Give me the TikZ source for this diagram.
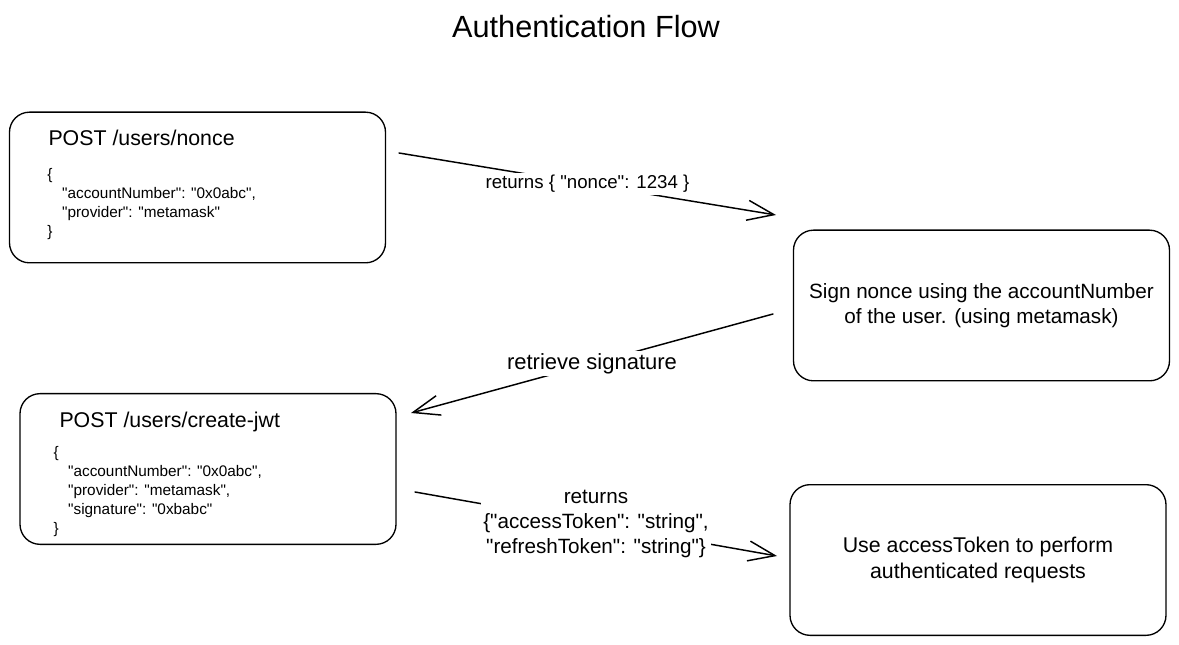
\documentclass[tikz,border=0pt]{standalone}
\usepackage{fontspec}
\setmainfont{Liberation Sans}[Ligatures=TeXOff]
\usetikzlibrary{arrows.meta}

\tikzset{every picture/.style={line width=0.75pt}}
\tikzset{
  card/.style={draw, rounded corners=15pt, line width=1pt, minimum width=282pt, minimum height=113pt, inner sep=0pt, align=center},
  route/.style={anchor=west, inner sep=0pt, font=\fontsize{16}{19}\selectfont},
  body/.style={anchor=north west, inner sep=0pt, align=left, font=\fontsize{11.5}{14.3}\selectfont},
  flow/.style={line width=1.1pt, line cap=round, -{Straight Barb[length=20pt,width=15pt]}},
  tag/.style={fill=white, inner sep=1.5pt, align=center}
}

\begin{document}
\begin{tikzpicture}[x=0.75pt,y=0.75pt,yscale=-1,xscale=1]
	\useasboundingbox (0,0) rectangle (1179,645);

	% Title
	\node (title) at (586,27) {\fontsize{23}{27}\selectfont Authentication Flow};

	%Shape: Rounded Rect (nonce request)
	\node [card] (nonce) at (197.5,187.5) {};
	% Text Node
	\node [route] (nonceRoute) at (48,137.5) {POST /users/nonce};
	% Text Node
	\node [body] (nonceBody) at (47,168) {\{\\
		\hspace*{11pt}"accountNumber": "0x0abc",\\
		\hspace*{11pt}"provider": "metamask"\\
		\}};

	%Shape: Rounded Rect (signing)
	\node [card, font=\fontsize{15.5}{19}\selectfont] (sign) at (981.5,305.5) {Sign nonce using the accountNumber\\of the user. (using metamask)};

	%Shape: Rounded Rect (jwt request)
	\node [card] (jwt) at (208,469) {};
	% Text Node
	\node [route] (jwtRoute) at (59,422) {POST /users/create-jwt};
	% Text Node
	\node [body] (jwtBody) at (53,446) {\{\\
		\hspace*{11pt}"accountNumber": "0x0abc",\\
		\hspace*{11pt}"provider": "metamask",\\
		\hspace*{11pt}"signature": "0xbabc"\\
		\}};

	%Shape: Rounded Rect (use token)
	\node [card, font=\fontsize{16}{19}\selectfont] (use) at (978,560) {Use accessToken to perform\\authenticated requests};

	% free ends of the arrows
	\coordinate (nonceOut) at (399,153);
	\coordinate (signIn) at (776,215);
	\coordinate (signOut) at (773,314);
	\coordinate (jwtIn) at (411,413);
	\coordinate (jwtOut) at (415,492);
	\coordinate (useIn) at (777,556);

	%Arrows
	\draw [flow] (nonceOut) -- node [tag, font=\fontsize{14}{17}\selectfont] (nonceTag) {returns \{ "nonce": 1234 \}} (signIn);
	\draw [flow] (signOut) -- node [tag, font=\fontsize{16.5}{19}\selectfont] (signTag) {retrieve signature} (jwtIn);
	\draw [flow] (jwtOut) -- node [tag, font=\fontsize{15.5}{18.75}\selectfont] (jwtTag) {returns\\\{"accessToken": "string",\\"refreshToken": "string"\}} (useIn);

\end{tikzpicture}
\end{document}
